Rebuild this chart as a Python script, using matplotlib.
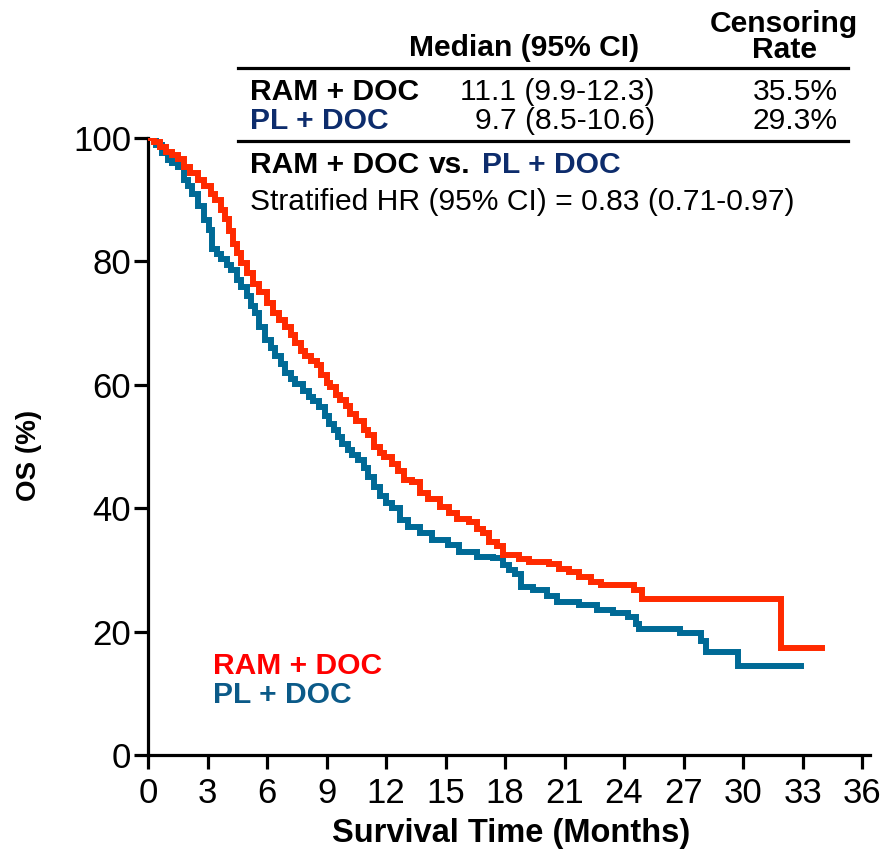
import matplotlib
matplotlib.use("Agg")
import matplotlib.pyplot as plt
from matplotlib.lines import Line2D

plt.rcParams['font.family'] = ['Liberation Sans', 'DejaVu Sans']

# Kaplan-Meier steps (months, OS %)
ram_t = [0, 0.3, 0.6, 0.9, 1.2, 1.5, 1.8, 2.1, 2.5, 2.8,
         3.2, 3.4, 3.7, 3.9, 4.1, 4.3, 4.5, 4.7, 5.0, 5.3,
         5.6, 6.0, 6.3, 6.6, 6.9, 7.2, 7.4, 7.7, 7.9, 8.2,
         8.5, 8.7, 9.0, 9.2, 9.5, 9.7, 10.0, 10.2, 10.5, 10.9,
         11.1, 11.4, 11.7, 11.9, 12.3, 12.6, 12.9, 13.3, 13.7, 14.1,
         14.7, 15.2, 15.6, 16.2, 16.6, 16.9, 17.2, 17.6, 17.9, 18.7,
         19.2, 20.2, 20.7, 21.2, 21.75, 22.35, 22.85, 24.5, 24.9, 31.9,
         34.0]
ram_s = [100, 99.3, 98.5, 97.8, 97.3, 96.6, 95.3, 94.4, 93.2, 92.2,
         91.0, 90.0, 88.3, 86.8, 84.9, 82.9, 81.3, 79.7, 78.1, 76.4,
         75.0, 73.2, 71.6, 70.5, 69.4, 68.0, 66.7, 65.5, 64.6, 63.9,
         63.2, 61.6, 60.3, 59.7, 58.4, 57.5, 56.5, 55.2, 54.1, 52.7,
         51.9, 50.0, 49.0, 48.3, 47.2, 46.0, 44.6, 44.2, 42.4, 41.5,
         40.2, 39.3, 38.3, 37.8, 36.6, 35.9, 34.6, 33.8, 32.4, 31.7,
         31.3, 31.0, 30.2, 29.7, 28.9, 28.1, 27.6, 26.7, 25.3, 17.4,
         17.4]

pl_t = [0, 0.4, 0.7, 1.0, 1.2, 1.5, 1.8, 2.0, 2.2, 2.5,
        2.8, 3.1, 3.25, 3.5, 3.7, 4.0, 4.2, 4.5, 4.7, 5.0,
        5.2, 5.4, 5.6, 5.9, 6.2, 6.4, 6.7, 6.9, 7.2, 7.4,
        7.8, 8.1, 8.3, 8.6, 8.9, 9.1, 9.4, 9.6, 9.8, 10.1,
        10.3, 10.6, 10.9, 11.1, 11.4, 11.7, 12.0, 12.3, 12.7, 13.1,
        13.7, 14.3, 15.1, 15.7, 16.6, 17.4, 17.9, 18.2, 18.5, 18.8,
        19.4, 20.1, 20.6, 21.75, 22.65, 23.45, 24.2, 24.6, 24.75, 26.8,
        27.9, 28.15, 29.75, 32.9]
pl_s = [100, 98.8, 97.5, 96.4, 96.0, 95.3, 93.2, 92.2, 91.0, 88.9,
        86.7, 85.1, 82.0, 81.2, 80.4, 79.4, 78.6, 77.0, 75.9, 74.4,
        72.7, 71.6, 69.4, 67.3, 66.0, 64.6, 63.3, 61.9, 61.0, 60.2,
        59.0, 58.1, 57.3, 56.4, 55.0, 53.7, 52.6, 51.6, 50.4, 49.4,
        48.6, 47.8, 46.5, 45.1, 43.5, 42.0, 40.8, 40.0, 38.1, 37.0,
        35.9, 34.8, 34.0, 32.9, 32.1, 31.9, 30.8, 30.0, 29.4, 27.3,
        26.8, 25.7, 24.8, 24.3, 23.5, 23.0, 22.4, 21.3, 20.5, 19.8,
        18.4, 16.7, 14.4, 14.4]

x_ticks = list(range(0, 37, 3))
y_ticks = [0, 20, 40, 60, 80, 100]

arm_names = ['RAM + DOC', 'PL + DOC']
medians = ['11.1 (9.9-12.3)', '9.7 (8.5-10.6)']
cens_rates = ['35.5%', '29.3%']
hr_text = 'Stratified HR (95% CI) = 0.83 (0.71-0.97)'

red = '#ff2a00'
blue = '#006a96'
navy = '#0d2c6c'

W, H = 890, 851
fig = plt.figure(figsize=(W / 100, H / 100), dpi=100)
ax = fig.add_axes([148 / W, 1 - 755 / H, 722 / W, 617 / H])


def px(x, y):
    # pixel position (from top left) to figure fraction
    return x / W, 1 - y / H


ax.plot(ram_t, ram_s, drawstyle='steps-post', color=red, lw=4.3,
        solid_joinstyle='miter', zorder=3)
ax.plot(pl_t, pl_s, drawstyle='steps-post', color=blue, lw=4.3,
        solid_joinstyle='miter', zorder=2)

ax.set_xlim(0, 36.4)
ax.set_ylim(0, 100)
ax.set_xticks(x_ticks)
ax.set_yticks(y_ticks)
for s in ['top', 'right']:
    ax.spines[s].set_visible(False)
for s in ['left', 'bottom']:
    ax.spines[s].set_linewidth(2.3)
ax.tick_params(direction='out', length=10, width=2.3, labelsize=25)
ax.tick_params(axis='y', pad=2)
ax.tick_params(axis='x', pad=6)

fig.text(*px(29, 455), 'OS (%)', rotation=90, ha='center', va='center',
         fontsize=20, fontweight='bold')
fig.text(*px(511, 842), 'Survival Time (Months)', ha='center', va='baseline',
         fontsize=23.5, fontweight='bold')

# summary table
fs = 21.6
fig.text(*px(784, 32), 'Censoring', ha='center', va='baseline', fontsize=fs, fontweight='bold')
fig.text(*px(784, 58), 'Rate', ha='center', va='baseline', fontsize=fs, fontweight='bold')
fig.text(*px(524, 56), 'Median (95% CI)', ha='center', va='baseline', fontsize=fs, fontweight='bold')
for yy in [68, 141]:
    fig.add_artist(Line2D([238 / W, 848 / W], [1 - yy / H, 1 - yy / H],
                          color='black', lw=2.3))

rows_y = [100, 129]
name_colors = ['black', navy]
for i in range(2):
    fig.text(*px(250, rows_y[i]), arm_names[i], ha='left', va='baseline',
             fontsize=fs, fontweight='bold', color=name_colors[i])
    fig.text(*px(655, rows_y[i]), medians[i], ha='right', va='baseline', fontsize=fs)
    fig.text(*px(838, rows_y[i]), cens_rates[i], ha='right', va='baseline', fontsize=fs)

fig.text(*px(250, 173), arm_names[0], ha='left', va='baseline', fontsize=fs,
         fontweight='bold')
fig.text(*px(429, 173), 'vs.', ha='left', va='baseline', fontsize=fs,
         fontweight='bold')
fig.text(*px(482, 173), arm_names[1], ha='left', va='baseline', fontsize=fs,
         fontweight='bold', color=navy)
fig.text(*px(250, 210), hr_text, ha='left', va='baseline', fontsize=fs)

# in-plot legend
fig.text(*px(213, 674), arm_names[0], ha='left', va='baseline', fontsize=fs,
         fontweight='bold', color='#ff0000')
fig.text(*px(213, 703), arm_names[1], ha='left', va='baseline', fontsize=fs,
         fontweight='bold', color='#0b5a88')

fig.savefig('out.png', dpi=100)
